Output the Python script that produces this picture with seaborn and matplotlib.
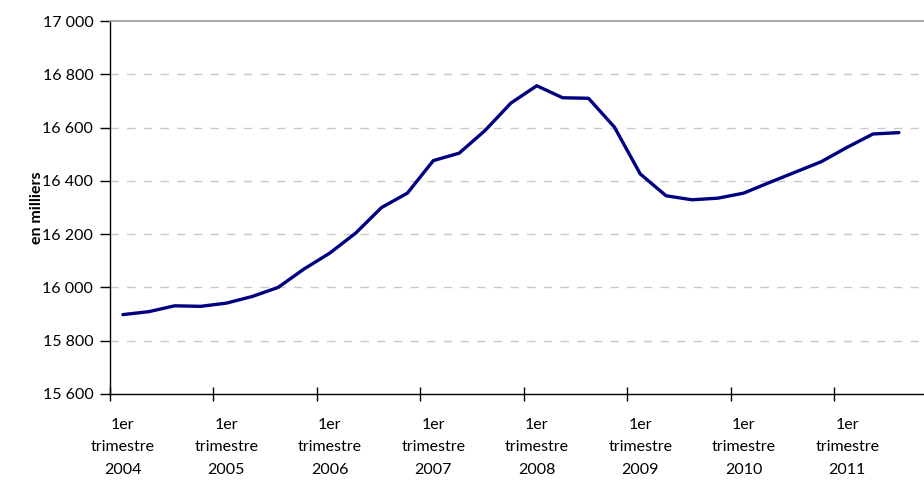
import matplotlib
matplotlib.use("Agg")
import matplotlib.pyplot as plt
import seaborn as sns
import pandas as pd
from matplotlib.ticker import FuncFormatter, FixedLocator

# Données trimestrielles (en milliers), 1er trimestre 2004 -> 3e trimestre 2011
annees = list(range(2004, 2012))
trimestres = ["1er", "2e", "3e", "4e"]
periodes = [f"{t} trimestre {a}" for a in annees for t in trimestres][:31]
effectifs = [15898, 15909, 15931, 15929, 15941, 15966, 16000, 16069,
             16129, 16204, 16300, 16354, 16476, 16504, 16589, 16692,
             16757, 16712, 16710, 16602, 16426, 16344, 16329, 16335,
             16354, 16394, 16433, 16472, 16526, 16576, 16581]
y_ticks = [15600, 15800, 16000, 16200, 16400, 16600, 16800, 17000]


def setup_style():
    sns.set_theme(style="white")
    plt.rcParams['font.family'] = ['Lato', 'DejaVu Sans']
    plt.rcParams['text.color'] = 'black'
    plt.rcParams['xtick.color'] = 'black'
    plt.rcParams['ytick.color'] = 'black'
    plt.rcParams['axes.labelcolor'] = 'black'


def main():
    setup_style()
    df = pd.DataFrame({"periode": periodes, "effectif": effectifs})
    df["pos"] = range(len(df))

    fig = plt.figure(figsize=(9.24, 4.8), dpi=100)
    ax = fig.add_axes([0.1190, 0.1792, 0.8810, 0.7770])

    # grille horizontale pointillée
    for v in y_ticks[1:-1]:
        ax.axhline(v, color='#c8c8c8', linestyle=(0, (6, 6)), linewidth=1, zorder=0)

    sns.lineplot(data=df, x="pos", y="effectif", color='#000080', linewidth=2.4, ax=ax)

    ax.set_xlim(-0.5, 30.97)
    ax.set_ylim(15600, 17000)

    # axes
    ax.spines['right'].set_visible(False)
    ax.spines['top'].set_color('#a0a0a0')
    ax.spines['top'].set_linewidth(1.3)
    for s in ['left', 'bottom']:
        ax.spines[s].set_color('black')
        ax.spines[s].set_linewidth(1)

    ax.yaxis.set_major_locator(FixedLocator(y_ticks))
    ax.yaxis.set_major_formatter(FuncFormatter(lambda v, p: f"{v:,.0f}".replace(",", " ")))
    ax.tick_params(axis='y', which='major', direction='out', length=7, width=1,
                   color='black', labelsize=11.5, pad=5, left=True)

    # graduations aux limites de catégories, libellés au 1er trimestre
    ax.xaxis.set_major_locator(FixedLocator([i - 0.5 for i in range(0, 31, 4)]))
    ax.xaxis.set_major_formatter(FuncFormatter(lambda v, p: ""))
    ax.tick_params(axis='x', which='major', direction='inout', length=10, width=1,
                   color='black', bottom=True)
    labels_pos = [i for i in range(len(periodes)) if periodes[i].startswith("1er")]
    ax.set_xticks(labels_pos, minor=True)
    ax.set_xticklabels([periodes[i].replace(" ", "\n") for i in labels_pos],
                       minor=True, fontsize=11.5, linespacing=1.8)
    ax.tick_params(axis='x', which='minor', length=0, pad=17)

    ax.set_xlabel("")
    ax.set_ylabel("en milliers", fontsize=11.5, fontweight='bold', labelpad=-1)

    fig.savefig("out.png", dpi=100)
    plt.close(fig)


if __name__ == "__main__":
    main()
